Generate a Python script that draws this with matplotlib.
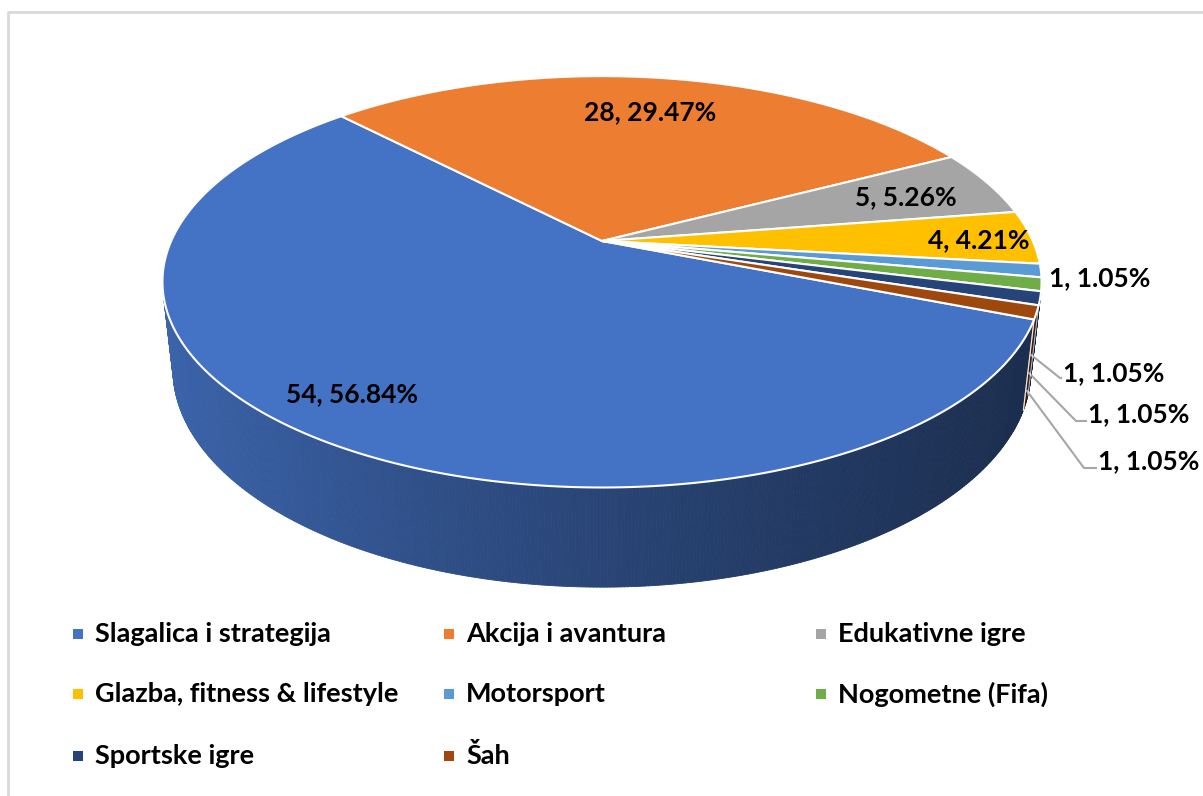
import numpy as np
import matplotlib
matplotlib.use('Agg')
import matplotlib.pyplot as plt
from matplotlib.collections import PolyCollection
from matplotlib.patches import Polygon

# data
categories = ['Slagalica i strategija', 'Akcija i avantura', 'Edukativne igre',
              'Glazba, fitness & lifestyle', 'Motorsport', 'Nogometne (Fifa)',
              'Sportske igre', 'Šah']
values = [54, 28, 5, 4, 1, 1, 1, 1]
colors = ['#4472C4', '#ED7D31', '#A5A5A5', '#FFC000', '#5B9BD5', '#70AD47',
          '#264478', '#9E480E']

plt.rcParams['font.family'] = ['Lato', 'DejaVu Sans']

# 3d pie geometry (pixel space)
cx, cy = 602, 241
F, D = 1930, 4.48
elev = np.radians(27.3)
H = 0.23
start = -21.6   # first slice start, deg ccw from right, slices go clockwise
s_e, c_e = np.sin(elev), np.cos(elev)


def proj(t_deg, z, r=1.0):
    t = np.radians(t_deg)
    X, Y = r * np.cos(t), r * np.sin(t)
    den = D + Y * c_e - z * s_e
    return cx + F * X / den, cy - F * (Y * s_e + z * c_e) / den


total = float(sum(values))
bounds = start - 360 * np.concatenate([[0], np.cumsum(values)]) / total

fig = plt.figure(figsize=(12.03, 7.96), dpi=100)
ax = fig.add_axes([0, 0, 1, 1])
ax.set_xlim(0, 1203)
ax.set_ylim(796, 0)
ax.axis('off')


def shade(col, k):
    rgb = np.array(matplotlib.colors.to_rgb(col))
    return tuple(rgb * k)


# side wall (front half only)
lim = np.degrees(np.arcsin(1.0 / (D * c_e)))
t_lo, t_hi = -180 + lim, -lim
polys, fcs = [], []
ts = np.linspace(t_lo, t_hi, 400)
for a, b in zip(ts[:-1], ts[1:]):
    m = 0.5 * (a + b)
    # which slice owns this angle
    k = 0
    for i in range(len(values)):
        lo, hi = bounds[i + 1], bounds[i]
        if lo <= m <= hi or lo <= m + 360 <= hi or lo <= m - 360 <= hi:
            k = i
            break
    p1, p2 = proj(a, 0), proj(b, 0)
    p3, p4 = proj(b, -H), proj(a, -H)
    polys.append([p1, p2, p3, p4])
    xm = 0.5 * (p1[0] + p2[0])
    f = 0.88 - 0.48 * np.clip((xm - 165) / 870, 0, 1) ** 0.8
    fcs.append(shade(colors[k], f))
ax.add_collection(PolyCollection(polys, facecolors=fcs, edgecolors=fcs, linewidths=0.6))

# slice boundary on the side wall
for bd in bounds:
    bb = ((bd + 180) % 360) - 180
    if t_lo < bb < t_hi:
        x0, y0 = proj(bb, 0)
        x1, y1 = proj(bb, -H)
        ax.plot([x0, x1], [y0, y1], color='white', lw=0.8, alpha=0.7)

# top faces
for i in range(len(values)):
    tt = np.linspace(bounds[i], bounds[i + 1], max(int(abs(bounds[i] - bounds[i + 1])) * 2, 6))
    pts = [(cx, cy)] + [proj(t, 0) for t in tt]
    ax.add_patch(Polygon(pts, closed=True, facecolor=colors[i], edgecolor='white', lw=1.5,
                         joinstyle='round'))

# data labels
lab_r = [0.83, 0.76, 0.77, 0.87]
lab_nudge = [(-19, -4), (2, 0), (3, 1), (3, 3)]
lab_font = dict(fontsize=19, fontweight='bold', color='black')
for i in range(4):
    m = 0.5 * (bounds[i] + bounds[i + 1])
    lx, ly = proj(m, 0, lab_r[i])
    pct = 100 * values[i] / total
    ax.text(lx + lab_nudge[i][0], ly + lab_nudge[i][1], f'{values[i]}, {pct:.2f}%',
            ha='center', va='center', **lab_font)

small_pos = [(1049, 278), (1063, 373), (1088, 414), (1098, 461)]
elbow = [None, (1060, 378), (1076, 421), (1084, 468)]
anchor_z = [None, -0.45, -0.65, -0.85]
t_sliver = bounds[8] + 1.5
for j, i in enumerate(range(4, 8)):
    pct = 100 * values[i] / total
    x, y = small_pos[j]
    ax.text(x, y, f'{values[i]}, {pct:.2f}%', ha='left', va='center', **lab_font)
    if elbow[j] is not None:
        ax0, ay0 = proj(t_sliver, anchor_z[j] * H)
        ex, ey = elbow[j]
        ax.plot([ax0, ex, x - 2], [ay0, ey, ey], color='#a6a6a6', lw=1.5, zorder=1)

# legend
leg_x = [78, 449, 821]
leg_y = [634, 694, 756]
for i, name in enumerate(categories):
    r, c = divmod(i, 3)
    ax.scatter([leg_x[c]], [leg_y[r]], marker='s', s=42, color=colors[i], edgecolors='none')
    ax.text(leg_x[c] + 17, leg_y[r], name, ha='left', va='center', fontsize=19.5,
            fontweight='bold', color='black')

# chart frame
ax.plot([8, 8, 1203], [796, 12, 12], color='#d9d9d9', lw=2)

fig.savefig('out.png', dpi=100)
